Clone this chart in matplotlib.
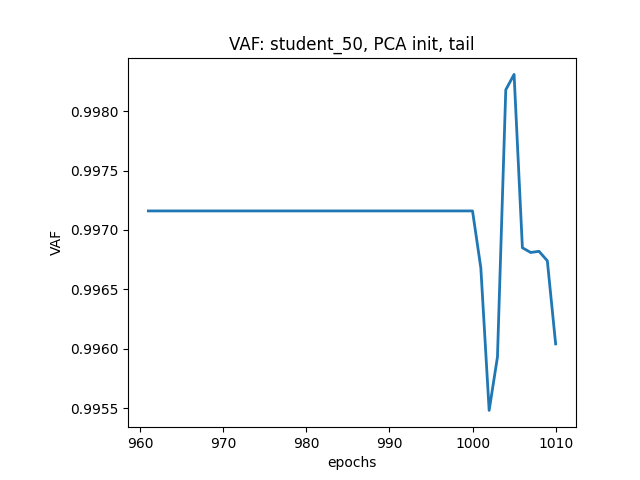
import matplotlib
matplotlib.use("Agg")
import matplotlib.pyplot as plt

# flat part from epoch 961 to 1000, then the tail values
flat_epochs = list(range(961, 1001))
flat_vaf = [0.99716] * len(flat_epochs)
tail_epochs = list(range(1001, 1011))
tail_vaf = [0.99668, 0.99548, 0.99593, 0.99818, 0.99831,
            0.99685, 0.99681, 0.99682, 0.99674, 0.99604]

epochs = flat_epochs + tail_epochs
vaf = flat_vaf + tail_vaf

fig, ax = plt.subplots(figsize=(6.4, 4.8), dpi=100)
fig.subplots_adjust(left=0.2)
ax.plot(epochs, vaf, linewidth=2)
ax.set_title("VAF: student_50, PCA init, tail")
ax.set_xlabel("epochs")
ax.set_ylabel("VAF")
plt.savefig("out.png")
plt.close()
